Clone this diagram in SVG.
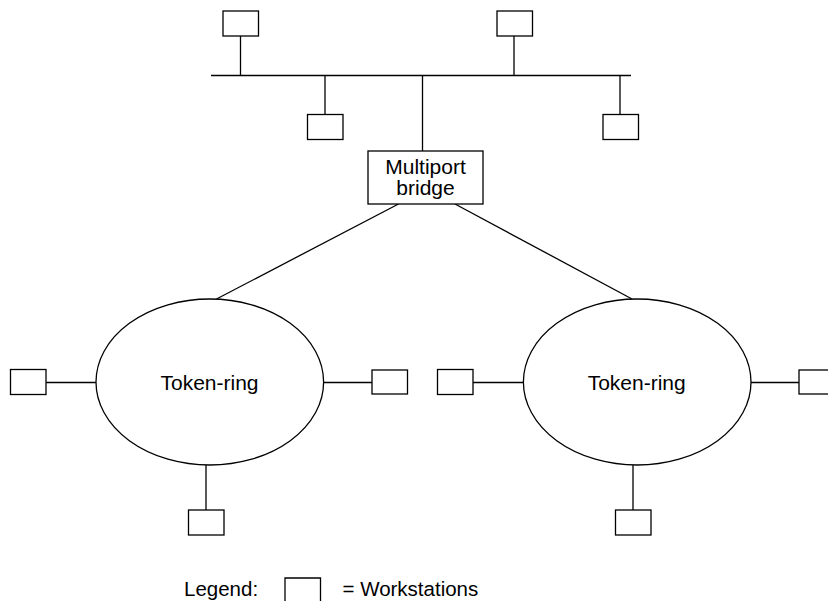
<svg xmlns="http://www.w3.org/2000/svg" width="828" height="601" viewBox="0 0 828 601">
<style>
.ws{fill:#fff;stroke:#000;stroke-width:1.3}
.ln{stroke:#000;stroke-width:1.3;fill:none}
.ring{fill:#fff;stroke:#000;stroke-width:1.3}
.br{fill:#fff;stroke:#000;stroke-width:1.3}
text{font-family:"Liberation Sans",Arial,sans-serif;font-size:20.5px;fill:#000}
.lbl{font-size:21px}
</style>
<rect width="828" height="601" fill="#fff"/>
<g id="connectors">
<line class="ln" x1="211" y1="75.5" x2="631" y2="75.5"/>
<line class="ln" x1="240.5" y1="36" x2="240.5" y2="75.5"/>
<line class="ln" x1="514" y1="36" x2="514" y2="75.5"/>
<line class="ln" x1="325" y1="75.5" x2="325" y2="114.5"/>
<line class="ln" x1="620" y1="75.5" x2="620" y2="114.5"/>
<line class="ln" x1="422.5" y1="75.5" x2="422.5" y2="151"/>
<line class="ln" x1="398.5" y1="204" x2="216.5" y2="299"/>
<line class="ln" x1="455" y1="204" x2="632" y2="299"/>
<line class="ln" x1="46" y1="382.5" x2="96" y2="382.5"/>
<line class="ln" x1="323.5" y1="382.5" x2="372" y2="382.5"/>
<line class="ln" x1="206" y1="465" x2="206" y2="510"/>
<line class="ln" x1="473" y1="382.5" x2="523.5" y2="382.5"/>
<line class="ln" x1="751" y1="382.5" x2="799" y2="382.5"/>
<line class="ln" x1="633" y1="465" x2="633" y2="510"/>
</g>
<g id="ws-top1"><rect class="ws" x="223" y="11" width="35.5" height="25"/></g>
<g id="ws-top2"><rect class="ws" x="497" y="11" width="35.5" height="25"/></g>
<g id="ws-top3"><rect class="ws" x="307.5" y="114.5" width="35.5" height="25"/></g>
<g id="ws-top4"><rect class="ws" x="603" y="114.5" width="35.5" height="25"/></g>
<g id="bridge">
<rect class="br" x="368" y="151" width="115" height="53"/>
<text class="lbl" x="425.5" y="173.5" text-anchor="middle">Multiport</text>
<text class="lbl" x="425.5" y="195" text-anchor="middle">bridge</text>
</g>
<g id="ring-left">
<ellipse class="ring" cx="209.8" cy="382" rx="113.8" ry="83"/>
<text class="lbl" x="209.5" y="390" text-anchor="middle">Token-ring</text>
</g>
<g id="ring-right">
<ellipse class="ring" cx="637.2" cy="382" rx="113.8" ry="83"/>
<text class="lbl" x="636.7" y="390" text-anchor="middle">Token-ring</text>
</g>
<g id="ws-l1"><rect class="ws" x="10.5" y="369.5" width="35.5" height="25"/></g>
<g id="ws-l2"><rect class="ws" x="372" y="370" width="35.5" height="24"/></g>
<g id="ws-l3"><rect class="ws" x="188.5" y="510" width="35.5" height="25"/></g>
<g id="ws-r1"><rect class="ws" x="437.5" y="369.5" width="35.5" height="25"/></g>
<g id="ws-r2"><rect class="ws" x="799" y="370" width="35.5" height="24"/></g>
<g id="ws-r3"><rect class="ws" x="615.5" y="510" width="35.5" height="25"/></g>
<g id="legend">
<text x="184" y="596">Legend:</text>
<path class="ln" d="M285 602 V578 H320.5 V602"/>
<text x="342.5" y="596">= Workstations</text>
</g>
</svg>
